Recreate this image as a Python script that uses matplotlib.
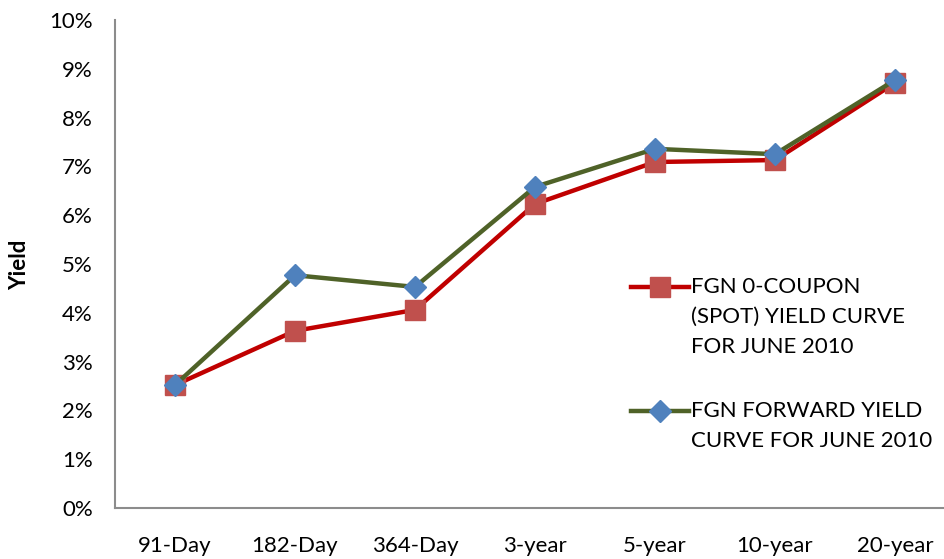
import matplotlib
matplotlib.use('Agg')
import matplotlib.pyplot as plt
from matplotlib.ticker import FuncFormatter

plt.rcParams['font.family'] = ['Lato', 'DejaVu Sans']

# data
tenors = ['91-Day', '182-Day', '364-Day', '3-year', '5-year', '10-year', '20-year']
spot_yield = [2.52, 3.63, 4.06, 6.23, 7.09, 7.13, 8.71]
forward_yield = [2.52, 4.77, 4.53, 6.58, 7.36, 7.25, 8.77]
spot_label = 'FGN 0-COUPON\n(SPOT) YIELD CURVE\nFOR JUNE 2010'
forward_label = 'FGN FORWARD YIELD\nCURVE FOR JUNE 2010'

W, H = 945, 559
fig = plt.figure(figsize=(W / 100, H / 100), dpi=100)
ax = fig.add_axes([115 / W, 51 / H, 840 / W, 488 / H])

x = range(len(tenors))
ax.plot(x, spot_yield, color='#C00000', lw=3.2, marker='s', markersize=14,
        markerfacecolor='#C0504D', markeredgecolor='#C0504D', label=spot_label, zorder=3)
ax.plot(x, forward_yield, color='#4F6228', lw=3.2, marker='D', markersize=11,
        markerfacecolor='#4F81BD', markeredgecolor='#4F81BD', label=forward_label, zorder=4)

ax.set_xlim(-0.5, len(tenors) - 0.5)
ax.set_ylim(0, 10)
ax.set_yticks(range(0, 11))
ax.yaxis.set_major_formatter(FuncFormatter(lambda v, p: f'{int(v)}%'))
ax.set_xticks(list(x))
ax.set_xticklabels(tenors)
ax.tick_params(axis='both', length=0, labelsize=16, colors='black')
ax.tick_params(axis='x', pad=20)
ax.tick_params(axis='y', pad=16)

for s in ['top', 'right']:
    ax.spines[s].set_visible(False)
for s in ['left', 'bottom']:
    ax.spines[s].set_color('#8C8C8C')
    ax.spines[s].set_linewidth(1.5)

fig.text(20 / W, 1 - 265 / H, 'Yield', rotation=90, fontsize=16, fontweight='bold',
         ha='center', va='center')

leg = fig.legend(loc='upper left', bbox_to_anchor=(622 / W, 1 - 268 / H),
                 frameon=False, fontsize=16, labelspacing=2.0, handlelength=2.6,
                 handleheight=1.3, handletextpad=0.1, borderaxespad=0)
for t in leg.get_texts():
    t.set_linespacing(1.62)
# put each handle next to the first line of its label, as in the original
for col in leg._legend_handle_box.get_children():
    for item in col.get_children():
        item.align = 'top'

fig.savefig('out.png', dpi=100)
